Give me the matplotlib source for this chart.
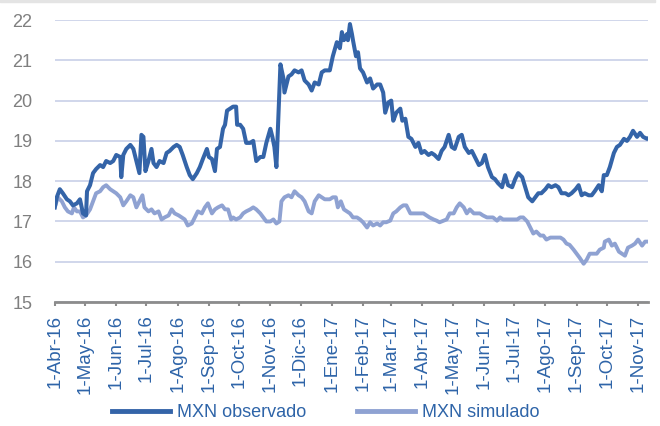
import numpy as np
import pandas as pd
import matplotlib
matplotlib.use("Agg")
import matplotlib.pyplot as plt

plt.rcParams['font.family'] = ['Liberation Sans', 'DejaVu Sans']

# days counted from 1-Apr-2016
obs_days = [0, 2, 5, 8, 12, 15, 18, 22, 25, 28, 31, 32, 35, 38, 41, 45, 48, 51, 55, 58,
            61, 65, 66, 68, 71, 75, 78, 81, 84, 86, 88, 90, 93, 96, 98, 101, 104, 108, 111, 114,
            118, 121, 124, 127, 131, 134, 137, 141, 144, 147, 151, 153, 156, 159, 161, 164, 167, 169, 171, 174,
            177, 180, 181, 184, 187, 190, 194, 197, 200, 204, 207, 210, 214, 216, 218, 220, 222, 224, 227, 228,
            232, 235, 238, 242, 245, 248, 252, 255, 258, 262, 265, 268, 273,
            276, 280, 283, 285, 287, 290, 291, 293, 295, 296, 299, 301, 303, 306, 310, 313, 316, 320, 323, 326,
            328, 331, 334, 336, 339, 343, 345, 348, 351, 354, 358, 361, 364, 367, 371, 374, 377, 381, 384, 387,
            391, 394, 397, 401, 404, 407, 411, 414, 417, 421, 424, 427, 430, 434, 437, 440, 444, 447, 450, 454,
            457, 460, 464, 467, 470, 474, 477, 480, 483, 487, 490, 493, 497, 500, 503, 507, 510, 513, 517, 520,
            523, 526, 530, 533, 536, 540, 543, 545, 548, 551, 555, 558, 561, 565, 568, 571, 574, 578, 581, 584,
            588, 590]
obs_vals = [17.35, 17.6, 17.8, 17.7, 17.55, 17.5, 17.4, 17.45, 17.55, 17.2, 17.15, 17.75, 17.9, 18.2, 18.3, 18.4, 18.35, 18.5, 18.45, 18.5,
            18.65, 18.6, 18.1, 18.65, 18.8, 18.9, 18.8, 18.5, 18.2, 19.15, 19.1, 18.25, 18.5, 18.8, 18.45, 18.35, 18.5, 18.45, 18.7, 18.75,
            18.85, 18.9, 18.85, 18.65, 18.35, 18.15, 18.05, 18.2, 18.35, 18.55, 18.8, 18.6, 18.55, 18.25, 18.8, 18.85, 19.3, 19.4, 19.75, 19.8,
            19.85, 19.85, 19.4, 19.4, 19.3, 18.95, 18.95, 19.0, 18.5, 18.6, 18.6, 18.95, 19.3, 19.1, 18.85, 18.35, 19.6, 20.9, 20.55, 20.2,
            20.6, 20.65, 20.75, 20.7, 20.75, 20.5, 20.4, 20.25, 20.45, 20.4, 20.7, 20.75, 20.75,
            21.1, 21.45, 21.3, 21.7, 21.5, 21.65, 21.5, 21.9, 21.65, 21.5, 21.1, 21.2, 20.8, 20.7, 20.45, 20.55, 20.3, 20.4, 20.4, 20.2,
            19.7, 19.95, 20.0, 19.5, 19.7, 19.8, 19.5, 19.55, 19.1, 19.05, 18.85, 18.95, 18.7, 18.75, 18.65, 18.7, 18.65, 18.55, 18.75, 18.85,
            19.15, 18.85, 18.8, 19.1, 19.15, 18.85, 18.7, 18.75, 18.6, 18.4, 18.45, 18.65, 18.35, 18.1, 18.05, 17.95, 17.85, 18.15, 17.9, 17.85,
            18.05, 18.2, 18.1, 17.85, 17.6, 17.5, 17.6, 17.7, 17.7, 17.8, 17.9, 17.85, 17.9, 17.85, 17.7, 17.7, 17.65, 17.7, 17.8, 17.9,
            17.65, 17.7, 17.65, 17.65, 17.75, 17.9, 17.75, 18.15, 18.15, 18.35, 18.7, 18.85, 18.9, 19.05, 19.0, 19.1, 19.25, 19.1, 19.2, 19.1,
            19.05, 19.07]

sim_days = [0, 3, 7, 10, 13, 17, 19, 22, 25, 28, 31, 35, 38, 41, 45, 48, 51, 55, 58, 61,
            65, 68, 71, 75, 78, 81, 84, 87, 89, 93, 96, 99, 103, 106, 109, 113, 116, 119, 123, 126,
            129, 132, 136, 139, 142, 146, 149, 152, 156, 159, 162, 166, 169, 172, 175, 177, 180, 184, 187, 190,
            194, 197, 200, 204, 207, 210, 214, 217, 220, 223, 225, 228, 232, 235, 238, 242, 245, 248, 252, 255,
            258, 262, 265, 268,
            273, 276, 279, 281, 284, 287, 290, 293, 296, 300, 303, 306, 310, 313, 316, 320, 323, 326, 329, 333,
            336, 339, 343, 346, 349, 353, 356, 359, 363, 366, 369, 372, 376, 379, 382, 386, 389, 392, 396, 399,
            402, 406, 409, 412, 416, 419, 422, 425, 429, 432, 435, 439, 442, 445, 449, 452, 455, 459, 462, 465,
            469, 472, 475, 478, 482, 485, 488, 492, 495, 498, 502, 505, 508, 511, 515, 518, 521, 525, 528, 531,
            535, 538, 541, 545, 546, 550, 553, 556, 560, 563, 566, 569, 573, 576, 579, 583, 586, 589]
sim_vals = [17.35, 17.6, 17.5, 17.35, 17.25, 17.2, 17.35, 17.25, 17.25, 17.1, 17.15, 17.3, 17.5, 17.7, 17.75, 17.85, 17.9, 17.8, 17.75, 17.7,
            17.6, 17.4, 17.5, 17.65, 17.6, 17.35, 17.5, 17.65, 17.35, 17.25, 17.3, 17.2, 17.25, 17.05, 17.1, 17.15, 17.3, 17.2, 17.15, 17.1,
            17.05, 16.9, 16.95, 17.1, 17.25, 17.2, 17.35, 17.45, 17.2, 17.3, 17.35, 17.4, 17.3, 17.3, 17.05, 17.1, 17.05, 17.1, 17.2, 17.25,
            17.3, 17.35, 17.3, 17.2, 17.1, 17.0, 17.0, 17.05, 16.95, 17.0, 17.5, 17.6, 17.65, 17.6, 17.75, 17.65, 17.6, 17.5, 17.25, 17.2,
            17.5, 17.65, 17.6, 17.55,
            17.55, 17.6, 17.6, 17.35, 17.5, 17.3, 17.25, 17.2, 17.1, 17.1, 17.05, 16.98, 16.85, 16.98, 16.9, 16.95, 16.9, 16.98, 16.98, 17.02,
            17.2, 17.25, 17.35, 17.4, 17.4, 17.2, 17.2, 17.2, 17.2, 17.2, 17.15, 17.1, 17.05, 17.02, 16.98, 17.02, 17.05, 17.2, 17.2, 17.35,
            17.45, 17.35, 17.2, 17.3, 17.2, 17.2, 17.2, 17.15, 17.1, 17.1, 17.1, 17.02, 17.1, 17.05, 17.05, 17.05, 17.05, 17.05, 17.1, 17.1,
            17.0, 16.85, 16.7, 16.75, 16.65, 16.65, 16.55, 16.6, 16.6, 16.6, 16.6, 16.55, 16.45, 16.42, 16.3, 16.2, 16.1, 15.95, 16.05, 16.2,
            16.2, 16.2, 16.3, 16.35, 16.5, 16.55, 16.4, 16.45, 16.25, 16.2, 16.15, 16.35, 16.4, 16.45, 16.55, 16.4, 16.5, 16.5]

meses = ['Abr', 'May', 'Jun', 'Jul', 'Ago', 'Sep', 'Oct', 'Nov', 'Dic', 'Ene',
         'Feb', 'Mar', 'Abr', 'May', 'Jun', 'Jul', 'Ago', 'Sep', 'Oct', 'Nov']

start = pd.Timestamp('2016-04-01')
obs_dates = start + pd.to_timedelta(obs_days, unit='D')
sim_dates = start + pd.to_timedelta(sim_days, unit='D')
tick_dates = pd.date_range('2016-04-01', '2017-11-01', freq='MS')
tick_labels = ['1-%s-%s' % (m, d.strftime('%y')) for m, d in zip(meses, tick_dates)]

fig = plt.figure(figsize=(6.6, 4.26), dpi=100)
ax = fig.add_axes([0.083, 0.291, 0.899, 0.662])

ax.plot(sim_dates, sim_vals, color='#8fa2d2', lw=2.8, label='MXN simulado', zorder=3)
ax.plot(obs_dates, obs_vals, color='#3464a8', lw=2.9, label='MXN observado', zorder=4)

ax.set_ylim(15, 22)
ax.set_yticks(range(15, 23))
ax.set_xlim(start, start + pd.Timedelta(days=589))
ax.set_xticks(tick_dates)
ax.set_xticklabels(tick_labels, rotation=90, va='top', ha='center')

ax.grid(axis='y', color='#c8d0e8', lw=1.2)
ax.set_axisbelow(True)
for s in ['left', 'right', 'top']:
    ax.spines[s].set_visible(False)
ax.spines['bottom'].set_color('#8c8c8c')
ax.spines['bottom'].set_linewidth(2)

ax.tick_params(axis='y', length=0, pad=16, labelsize=13, labelcolor='#7f7f7f')
ax.tick_params(axis='x', length=3, width=1.5, color='#8c8c8c', pad=6,
               labelsize=13.5, labelcolor='#2e64a8')

handles, labels = ax.get_legend_handles_labels()
leg = fig.legend(handles[::-1], labels[::-1], loc='center', bbox_to_anchor=(0.494, 0.031),
                 ncol=2, frameon=False, fontsize=13, handlelength=3.2,
                 handletextpad=0.4, columnspacing=2.8)
for t in leg.get_texts():
    t.set_color('#2e64a8')
for h in leg.get_lines():
    h.set_linewidth(3.5)

# light frame strip along the top edge
fig.patches.append(plt.Rectangle((0, 0.995), 0.992, 0.005, transform=fig.transFigure,
                                 color='#e4e4e4', zorder=0))

fig.savefig('out.png', dpi=100)
